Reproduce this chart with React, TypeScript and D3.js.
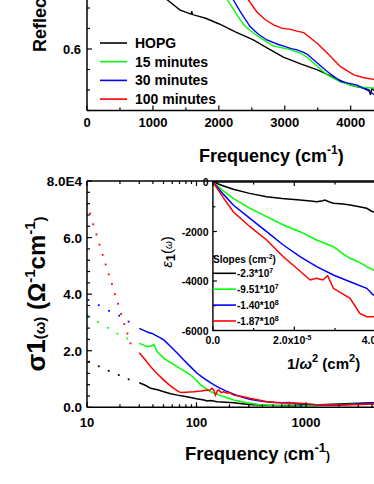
import React from "react";
import * as d3 from "d3";

const FONT = "'Liberation Sans', Arial, Helvetica, sans-serif";
const W = 374;
const H = 484;

const GREEN = "#00ff00";
const BLUE = "#0000ff";
const RED = "#ff0000";
const BLACK = "#000000";

// ---- top panel: reflectance vs frequency (cm-1) ----
const hopgFreq = [0, 300, 600, 900, 1100, 1216, 1413, 1580, 1590, 1600, 1800, 2006, 2250, 2523, 2750, 2979, 3250, 3495, 3750, 3997, 4100, 4200, 4280, 4300, 4320, 4347, 4400];
const hopgR = [0.97, 0.9, 0.83, 0.77, 0.74, 0.72, 0.695, 0.685, 0.692, 0.684, 0.675, 0.661, 0.642, 0.622, 0.601, 0.58, 0.563, 0.549, 0.53, 0.512, 0.508, 0.505, 0.5, 0.488, 0.503, 0.5, 0.498];
const m15Freq = [1600, 1900, 2128, 2250, 2325, 2400, 2477, 2600, 2832, 2984, 3100, 3237, 3340, 3440, 3643, 3845, 4098, 4400];
const m15R = [0.95, 0.82, 0.72, 0.69, 0.671, 0.655, 0.645, 0.63, 0.607, 0.602, 0.598, 0.59, 0.58, 0.565, 0.537, 0.52, 0.508, 0.504];
const m30Freq = [1600, 1900, 2219, 2325, 2477, 2600, 2730, 2900, 2984, 3100, 3187, 3287, 3350, 3440, 3643, 3845, 4098, 4250, 4350, 4400];
const m30R = [0.97, 0.84, 0.72, 0.691, 0.654, 0.636, 0.622, 0.611, 0.607, 0.601, 0.598, 0.592, 0.586, 0.573, 0.545, 0.521, 0.512, 0.5, 0.49, 0.488];
const m100Freq = [1800, 2100, 2300, 2447, 2574, 2700, 2832, 2950, 3085, 3200, 3287, 3380, 3490, 3643, 3845, 4048, 4200, 4350, 4400];
const m100R = [1.0, 0.86, 0.78, 0.72, 0.691, 0.672, 0.659, 0.651, 0.648, 0.643, 0.64, 0.628, 0.614, 0.59, 0.557, 0.537, 0.53, 0.526, 0.522];

const legendNames = ["HOPG", "15 minutes", "30 minutes", "100 minutes"];
const seriesColors = [BLACK, GREEN, BLUE, RED];
const topXTicks = [0, 1000, 2000, 3000, 4000];
const topYTicks = [0.6];

// ---- bottom panel: sigma1 (units of 1E4) vs frequency, log axis ----
const hopgDotF = [10.4, 12.8, 15.8, 19.5, 24.0];
const hopgDotS = [1.61, 1.45, 1.29, 1.14, 0.99];
const m15DotF = [10.2, 12.6, 15.5, 18.9, 23.3];
const m15DotS = [3.24, 3.02, 2.81, 2.6, 2.43];
const m30DotF = [10.3, 12.8, 15.9, 19.7, 24.0];
const m30DotS = [3.79, 3.61, 3.41, 3.24, 3.03];
const m100DotF = [10.0, 10.7, 11.4, 12.2, 13.0, 13.9, 14.8, 15.8, 16.9, 18.0, 19.2, 20.5, 21.9, 23.4, 25.0];
const m100DotS = [7.2, 6.85, 6.47, 6.11, 5.75, 5.39, 5.05, 4.7, 4.36, 4.0, 3.66, 3.3, 2.94, 2.61, 2.26];

const hopgSigF = [30, 34, 38.2, 44, 50.3, 58, 66.9, 77, 88.4, 100, 117, 125, 135, 154, 185, 219, 300, 436, 600, 880, 1300, 2000, 3000, 4200];
const hopgSigS = [0.87, 0.78, 0.67, 0.62, 0.55, 0.48, 0.43, 0.39, 0.35, 0.3, 0.26, 0.22, 0.24, 0.2, 0.18, 0.16, 0.1, 0.07, 0.06, 0.07, 0.09, 0.12, 0.14, 0.16];
const m15SigF = [30, 33, 35.5, 38, 40.9, 42.5, 43.8, 47, 50.3, 58, 66.9, 77, 88.4, 100, 109, 122, 135, 160, 190, 219, 260, 307, 370, 436, 520, 620, 880, 1200, 1800, 2500, 3200, 4200];
const m15SigS = [2.26, 2.2, 2.14, 2.16, 2.22, 2.08, 1.96, 1.85, 1.73, 1.58, 1.43, 1.29, 1.14, 0.95, 0.79, 0.66, 0.55, 0.44, 0.34, 0.26, 0.2, 0.14, 0.1, 0.08, 0.06, 0.05, 0.05, 0.06, 0.08, 0.1, 0.12, 0.13];
const m30SigF = [30, 33, 36, 39.4, 42, 45, 50.3, 58, 66.9, 77, 88.4, 100, 117, 135, 154, 185, 219, 260, 307, 370, 436, 520, 620, 700, 880, 1100, 1400, 1800, 2300, 3000, 4200];
const m30SigS = [2.79, 2.72, 2.65, 2.61, 2.55, 2.49, 2.38, 2.15, 1.91, 1.66, 1.43, 1.22, 1.02, 0.86, 0.73, 0.58, 0.46, 0.36, 0.28, 0.23, 0.2, 0.17, 0.16, 0.17, 0.12, 0.1, 0.08, 0.07, 0.09, 0.12, 0.15];
const m100SigF = [30, 34, 38.2, 44, 50.3, 56, 62, 67, 71.8, 80, 94.6, 110, 124, 132, 138, 143, 149, 155, 160, 168, 177, 190, 200, 219, 260, 307, 370, 436, 600, 880, 1200, 1780, 2500, 3200, 4200];
const m100SigS = [1.93, 1.68, 1.43, 1.18, 0.96, 0.8, 0.67, 0.58, 0.52, 0.53, 0.55, 0.58, 0.61, 0.6, 0.67, 0.62, 0.43, 0.58, 0.61, 0.52, 0.55, 0.5, 0.52, 0.43, 0.38, 0.32, 0.26, 0.2, 0.16, 0.14, 0.1, 0.08, 0.09, 0.1, 0.12];

const botXTicks = [10, 100, 1000];
const botXLabels = ["10", "100", "1000"];
const botYTicks = [0, 2, 4, 6, 8];
const botYLabels = ["0.0", "2.0", "4.0", "6.0", "8.0E4"];

// ---- inset: eps1 vs 1/omega^2 (x in units of 1E-5 cm2) ----
const hopgEpsX = [0, 0.25, 0.5, 0.9, 1.32, 1.7, 2.14, 2.4, 2.55, 2.7, 2.75, 2.85, 2.96, 3.2, 3.37, 3.6, 3.78, 3.9, 4.0];
const hopgEpsY = [0, -150, -295, -460, -594, -670, -727, -770, -796, -760, -727, -800, -861, -890, -929, -1000, -1063, -1180, -1240];
const m15EpsX = [0, 0.25, 0.5, 0.91, 1.32, 1.73, 2.14, 2.55, 2.96, 3.2, 3.37, 3.6, 3.78, 3.94, 4.0];
const m15EpsY = [0, -350, -659, -1063, -1400, -1737, -2008, -2343, -2614, -2900, -3083, -3250, -3422, -3556, -3560];
const m30EpsX = [0, 0.25, 0.5, 0.91, 1.32, 1.73, 2.14, 2.55, 2.96, 3.37, 3.78, 3.94, 4.0];
const m30EpsY = [0, -480, -929, -1467, -2008, -2545, -3018, -3422, -3758, -4028, -4295, -4566, -4580];
const m100EpsX = [0, 0.25, 0.5, 0.91, 1.32, 1.73, 2.06, 2.39, 2.55, 2.7, 2.82, 2.96, 3.37, 3.61, 3.78, 3.94, 4.0];
const m100EpsY = [0, -620, -1200, -1806, -2343, -3018, -3487, -3960, -3892, -3960, -3784, -4295, -4700, -5306, -5441, -5441, -5420];

const slopeMant = ["-2.3*10", "-9.51*10", "-1.40*10", "-1.87*10"];
const slopeExp = ["7", "7", "8", "8"];
const insetYTicks = [0, -2000, -4000, -6000];
const insetXTicks = [0, 2];

const zip = (a: number[], b: number[]): [number, number][] => a.map((v, i) => [v, b[i]]);

export default function App() {
  // scales
  const xTop = d3.scaleLinear().domain([0, 4000]).range([87, 350.7]);
  const yTop = d3.scaleLinear().domain([0.45, 0.6]).range([110.5, 49]);
  const xBot = d3.scaleLog().domain([10, 1000]).range([87, 306]);
  const yBot = d3.scaleLinear().domain([0, 8]).range([407.3, 181]);
  const xIn = d3.scaleLinear().domain([0, 2]).range([212.9, 294.3]);
  const yIn = d3.scaleLinear().domain([-6000, 0]).range([330.5, 182]);

  const topLine = d3.line<[number, number]>().x((d) => xTop(d[0])).y((d) => yTop(d[1]));
  const botLine = d3.line<[number, number]>().x((d) => xBot(d[0])).y((d) => yBot(d[1]));
  const inLine = d3.line<[number, number]>().x((d) => xIn(d[0])).y((d) => yIn(d[1]));

  const topSeries = [zip(hopgFreq, hopgR), zip(m15Freq, m15R), zip(m30Freq, m30R), zip(m100Freq, m100R)];
  const dotSeries = [zip(hopgDotF, hopgDotS), zip(m15DotF, m15DotS), zip(m30DotF, m30DotS), zip(m100DotF, m100DotS)];
  const sigSeries = [zip(hopgSigF, hopgSigS), zip(m15SigF, m15SigS), zip(m30SigF, m30SigS), zip(m100SigF, m100SigS)];
  const epsSeries = [zip(hopgEpsX, hopgEpsY), zip(m15EpsX, m15EpsY), zip(m30EpsX, m30EpsY), zip(m100EpsX, m100EpsY)];

  const topBottom = yTop(0.45);
  const botBottom = yBot(0);
  const botTop = yBot(8);
  const inL = xIn(0);
  const inB = yIn(-6000);
  const inT = yIn(0);

  // minor tick positions
  const topXMinor = d3.range(500, 4500, 1000);
  const topYMinor = [0.45, 0.5, 0.55, 0.65, 0.7];
  const botXMinor: number[] = [];
  [10, 100, 1000].forEach((dec) => {
    for (let k = 2; k <= 9; k++) botXMinor.push(dec * k);
  });
  const botYMinor = d3.range(0.4, 8, 0.4).filter((v) => Math.abs(v / 2 - Math.round(v / 2)) > 0.01);
  const inYMinor = [-1000, -3000, -5000];
  const inXMinor = [1, 3];

  const ax = { stroke: "#000", strokeWidth: 1.5, fill: "none" };
  const tk = { stroke: "#000", strokeWidth: 1.2 };
  const lbl = { fontFamily: FONT, fontWeight: 700 as const, fill: "#000" };

  return (
    <svg width={W} height={H} style={{ position: "absolute", left: 0, top: 0, background: "#fff" }}>
      <defs>
        <clipPath id="clipTop">
          <rect x={87} y={-300} width={400} height={topBottom + 300} />
        </clipPath>
        <clipPath id="clipBot">
          <rect x={87} y={botTop} width={400} height={botBottom - botTop} />
        </clipPath>
        <clipPath id="clipIn">
          <rect x={inL} y={inT} width={300} height={inB - inT} />
        </clipPath>
      </defs>
      <rect x={0} y={0} width={W} height={H} fill="#fff" />

      {/* ===== top panel ===== */}
      <g clipPath="url(#clipTop)">
        {topSeries.map((s, i) => (
          <path key={i} d={topLine(s) || ""} stroke={seriesColors[i]} strokeWidth={1.4} fill="none" />
        ))}
      </g>
      <line x1={87} x2={87} y1={-5} y2={topBottom} {...ax} />
      <line x1={87} x2={W + 5} y1={topBottom} y2={topBottom} {...ax} />
      {topXTicks.map((t) => (
        <g key={"tx" + t}>
          <line x1={xTop(t)} x2={xTop(t)} y1={topBottom} y2={topBottom - 5} {...tk} />
          <text x={xTop(t)} y={127} fontSize={13} textAnchor="middle" {...lbl}>{t}</text>
        </g>
      ))}
      {topXMinor.map((t) => (
        <line key={"txm" + t} x1={xTop(t)} x2={xTop(t)} y1={topBottom} y2={topBottom - 3} {...tk} />
      ))}
      {topYTicks.map((t) => (
        <g key={"ty" + t}>
          <line x1={87} x2={92} y1={yTop(t)} y2={yTop(t)} {...tk} />
          <text x={81} y={yTop(t) + 4.5} fontSize={13} textAnchor="end" {...lbl}>{t.toFixed(1)}</text>
        </g>
      ))}
      {topYMinor.map((t) => (
        <line key={"tym" + t} x1={87} x2={90} y1={yTop(t)} y2={yTop(t)} {...tk} />
      ))}
      <text transform="translate(46,52) rotate(-90)" fontSize={18} textAnchor="start" {...lbl}>Reflectance</text>
      <text x={199} y={162} fontSize={18} {...lbl}>
        Frequency (cm<tspan fontSize={12} dy={-8}>-1</tspan><tspan dy={8}>)</tspan>
      </text>
      {legendNames.map((n, i) => (
        <g key={n}>
          <line x1={100} x2={127} y1={43 + i * 18.7} y2={43 + i * 18.7} stroke={seriesColors[i]} strokeWidth={1.6} />
          <text x={135} y={48 + i * 18.7} fontSize={14} {...lbl}>{n}</text>
        </g>
      ))}

      {/* ===== bottom panel ===== */}
      <g clipPath="url(#clipBot)">
        {sigSeries.map((s, i) => (
          <path key={i} d={botLine(s) || ""} stroke={seriesColors[i]} strokeWidth={1.5} fill="none" />
        ))}
        {dotSeries.map((s, i) =>
          s.map((d, j) => (
            <rect key={i + "-" + j} x={xBot(d[0]) - 0.9} y={yBot(d[1]) - 0.9} width={1.8} height={1.8} fill={seriesColors[i]} />
          ))
        )}
      </g>
      <line x1={87} x2={87} y1={botTop} y2={botBottom} {...ax} />
      <line x1={87} x2={W + 5} y1={botBottom} y2={botBottom} {...ax} />
      <line x1={87} x2={W + 5} y1={botTop} y2={botTop} {...ax} />
      {botXTicks.map((t, i) => (
        <g key={"bx" + t}>
          <line x1={xBot(t)} x2={xBot(t)} y1={botBottom} y2={botBottom - 5} {...tk} />
          <line x1={xBot(t)} x2={xBot(t)} y1={botTop} y2={botTop + 5} {...tk} />
          <text x={xBot(t)} y={427} fontSize={13} textAnchor="middle" {...lbl}>{botXLabels[i]}</text>
        </g>
      ))}
      {botXMinor.map((t) => (
        <g key={"bxm" + t}>
          <line x1={xBot(t)} x2={xBot(t)} y1={botBottom} y2={botBottom - 3} {...tk} />
          <line x1={xBot(t)} x2={xBot(t)} y1={botTop} y2={botTop + 3} {...tk} />
        </g>
      ))}
      {botYTicks.map((t, i) => (
        <g key={"by" + t}>
          <line x1={87} x2={92} y1={yBot(t)} y2={yBot(t)} {...tk} />
          <text x={82} y={yBot(t) + 5} fontSize={13.5} textAnchor="end" {...lbl}>{botYLabels[i]}</text>
        </g>
      ))}
      {botYMinor.map((t) => (
        <line key={"bym" + t} x1={87} x2={90} y1={yBot(t)} y2={yBot(t)} {...tk} />
      ))}
      <text transform="translate(45,294) rotate(-90)" textAnchor="middle" {...lbl}>
        <tspan fontSize={26}>σ1</tspan>
        <tspan fontSize={15}>(ω)</tspan>
        <tspan fontSize={24}> (Ω</tspan>
        <tspan fontSize={15} dy={-10}>-1</tspan>
        <tspan fontSize={24} dy={10}>cm</tspan>
        <tspan fontSize={15} dy={-10}>-1</tspan>
        <tspan fontSize={15} dy={10}>)</tspan>
      </text>
      <text x={185} y={460} {...lbl}>
        <tspan fontSize={18.5}>Frequency </tspan>
        <tspan fontSize={12}>(</tspan>
        <tspan fontSize={18.5}>cm</tspan>
        <tspan fontSize={13} dy={-8}>-1</tspan>
        <tspan fontSize={12} dy={8}>)</tspan>
      </text>

      {/* ===== inset ===== */}
      <rect x={inL} y={inT} width={300} height={inB - inT} fill="#fff" stroke="#000" strokeWidth={1.4} />
      <g clipPath="url(#clipIn)">
        {epsSeries.map((s, i) => (
          <path key={i} d={inLine(s) || ""} stroke={seriesColors[i]} strokeWidth={1.5} fill="none" />
        ))}
      </g>
      {insetYTicks.map((t) => (
        <g key={"iy" + t}>
          <line x1={inL} x2={inL + 4} y1={yIn(t)} y2={yIn(t)} {...tk} />
          <text x={208.5} y={yIn(t) + 4} fontSize={10.5} textAnchor="end" {...lbl}>{t}</text>
        </g>
      ))}
      {inYMinor.map((t) => (
        <line key={"iym" + t} x1={inL} x2={inL + 2.5} y1={yIn(t)} y2={yIn(t)} {...tk} />
      ))}
      {[...insetXTicks, ...inXMinor].map((t) => (
        <g key={"ix" + t}>
          <line x1={xIn(t)} x2={xIn(t)} y1={inB} y2={inB - (t % 2 === 0 ? 4 : 2.5)} {...tk} />
          <line x1={xIn(t)} x2={xIn(t)} y1={inT} y2={inT + (t % 2 === 0 ? 4 : 2.5)} {...tk} />
        </g>
      ))}
      <text x={xIn(0)} y={344} fontSize={10.5} textAnchor="middle" {...lbl}>0.0</text>
      <text x={xIn(2) - 2} y={344} fontSize={10.5} textAnchor="middle" {...lbl}>
        2.0x10<tspan fontSize={7} dy={-4}>-5</tspan>
      </text>
      <text x={xIn(4) - 14} y={344} fontSize={10.5} {...lbl}>4.0x10</text>
      <text x={287} y={369} {...lbl}>
        <tspan fontSize={15}>1/</tspan>
        <tspan fontSize={15} fontStyle="italic">ω</tspan>
        <tspan fontSize={11} dy={-7}>2</tspan>
        <tspan fontSize={15} dy={7}> (cm</tspan>
        <tspan fontSize={11} dy={-7}>2</tspan>
        <tspan fontSize={15} dy={7}>)</tspan>
      </text>
      <text transform="translate(172,252) rotate(-90)" textAnchor="middle" fontFamily={FONT} fill="#000">
        <tspan fontSize={15} fontStyle="italic">ε</tspan>
        <tspan fontSize={13} fontWeight={700} dy={3}>1</tspan>
        <tspan fontSize={15} dy={-3}>(</tspan>
        <tspan fontSize={10} fontStyle="italic">ω</tspan>
        <tspan fontSize={15}>)</tspan>
      </text>
      <text x={213} y={263} fontSize={10} {...lbl}>
        Slopes (cm<tspan fontSize={7} dy={-4}>-2</tspan><tspan dy={4}>)</tspan>
      </text>
      {slopeMant.map((m, i) => (
        <g key={m}>
          <line x1={inL} x2={236} y1={273.3 + i * 15.9} y2={273.3 + i * 15.9} stroke={seriesColors[i]} strokeWidth={1.6} />
          <text x={237} y={277 + i * 15.9} fontSize={10} {...lbl}>
            {m}<tspan fontSize={7} dy={-4}>{slopeExp[i]}</tspan>
          </text>
        </g>
      ))}
    </svg>
  );
}
